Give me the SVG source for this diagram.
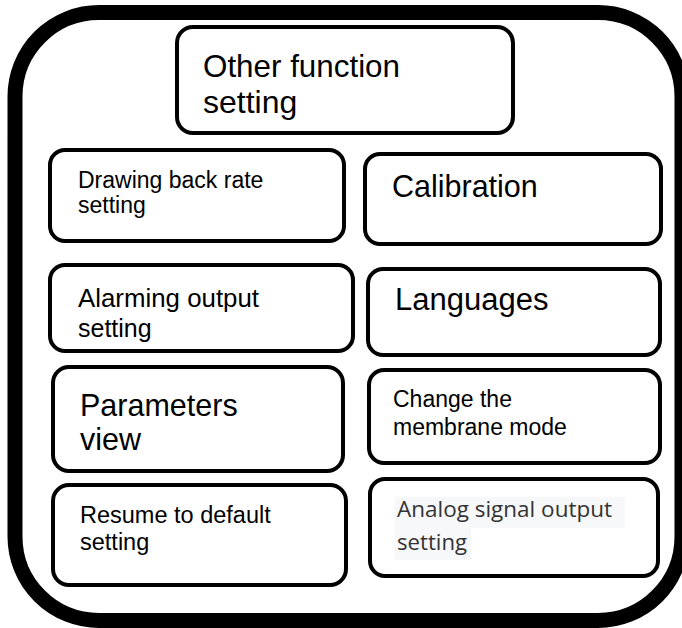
<svg xmlns="http://www.w3.org/2000/svg" width="682" height="628" viewBox="0 0 682 628">
<style>
.frame{fill:none;stroke:#000;stroke-width:15}
.box{fill:#fff;stroke:#000;stroke-width:4}
.t{font-family:"Liberation Sans",Arial,sans-serif;fill:#000}
.t2{font-family:"Open Sans","Noto Sans",sans-serif;fill:#333}
</style>
<rect width="682" height="628" fill="#fff"/>
<rect class="frame" x="15" y="12.5" width="667" height="608" rx="84" ry="84"/>
<g id="n-other">
<rect class="box" x="177" y="27" width="336" height="106" rx="16"/>
<text class="t" font-size="32"><tspan x="203" y="77" textLength="197" lengthAdjust="spacingAndGlyphs">Other function</tspan><tspan x="203" y="113">setting</tspan></text>
</g>
<g id="n-drawing">
<rect class="box" x="50" y="150" width="294" height="91" rx="15"/>
<text class="t" font-size="23"><tspan x="78" y="188">Drawing back rate</tspan><tspan x="78" y="213">setting</tspan></text>
</g>
<g id="n-calibration">
<rect class="box" x="365" y="154" width="296" height="90" rx="15"/>
<text class="t" font-size="30.5" x="392" y="197">Calibration</text>
</g>
<g id="n-alarming">
<rect class="box" x="50" y="265" width="303" height="86" rx="15"/>
<text class="t" font-size="25"><tspan x="78" y="307" textLength="181" lengthAdjust="spacingAndGlyphs">Alarming output</tspan><tspan x="78" y="337">setting</tspan></text>
</g>
<g id="n-languages">
<rect class="box" x="368" y="269" width="292" height="86" rx="15"/>
<text class="t" font-size="31" x="395" y="310">Languages</text>
</g>
<g id="n-parameters">
<rect class="box" x="53" y="367" width="290" height="104" rx="16"/>
<text class="t" font-size="30.5"><tspan x="80" y="416">Parameters</tspan><tspan x="80" y="450">view</tspan></text>
</g>
<g id="n-membrane">
<rect class="box" x="369" y="370" width="291" height="93" rx="15"/>
<text class="t" font-size="23"><tspan x="393" y="407">Change the</tspan><tspan x="393" y="435">membrane mode</tspan></text>
</g>
<g id="n-resume">
<rect class="box" x="53" y="485" width="293" height="100" rx="16"/>
<text class="t" font-size="23.5"><tspan x="80" y="523">Resume to default</tspan><tspan x="80" y="550">setting</tspan></text>
</g>
<g id="n-analog">
<rect class="box" x="370" y="479" width="288" height="97" rx="15"/>
<rect x="395" y="497" width="230" height="31" fill="#f7f8fa"/>
<rect x="395" y="528" width="76" height="32" fill="#f7f8fa"/>
<text class="t2" font-size="22"><tspan x="397" y="517" textLength="215" lengthAdjust="spacingAndGlyphs">Analog signal output</tspan><tspan x="397" y="550" textLength="70" lengthAdjust="spacingAndGlyphs">setting</tspan></text>
</g>
<g id="connectors"></g>
</svg>
